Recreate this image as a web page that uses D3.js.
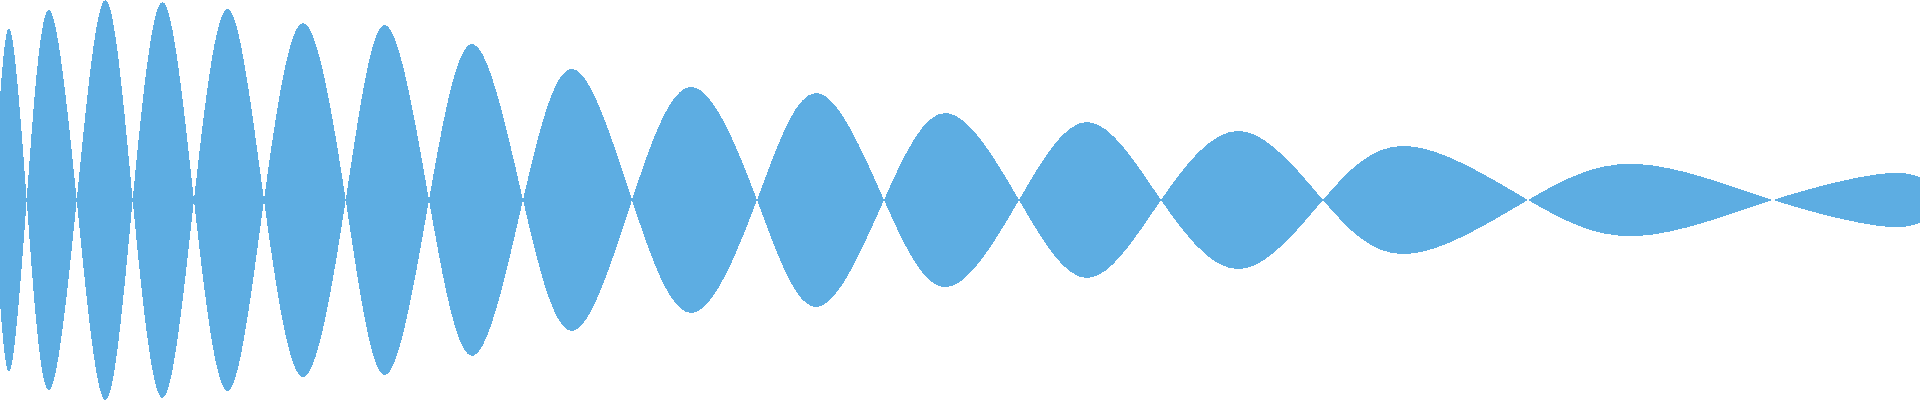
<!DOCTYPE html>
<html>
<head>
<meta charset="utf-8">
<script src="https://cdn.jsdelivr.net/npm/d3@7"></script>
<style>
  html, body { margin: 0; padding: 0; background: #ffffff; overflow: hidden; }
  svg { display: block; }
</style>
</head>
<body>
<script>
var w = 1920;
var h = 400;

// sample times (nodes and crests of the signal)
var times = [0, 10.7, 26.7, 48.3, 76.7, 105.3, 132.7, 162.5, 194, 227.7, 264, 303.3,
  345.7, 385, 429, 473, 523, 573, 632, 692, 757, 817, 884, 947, 1019, 1088,
  1161, 1240, 1323, 1408, 1528, 1638, 1773, 1880, 1920];

// signal value at each time
var values = [0.515, 0.843, 0, -0.95, 0, 1.0, 0, -0.99, 0, 0.955, 0, -0.885,
  0, 0.875, 0, -0.78, 0, 0.655, 0, -0.565, 0, 0.535, 0, -0.435, 0, 0.39,
  0, -0.345, 0, 0.27, 0, -0.18, 0, 0.13, 0.113];

var data = times.map(function (t, i) {
  return { t: t, v: values[i] };
});

var svg = d3.select("body").append("svg").attr("width", w).attr("height", h);

var x = d3.scaleLinear().domain([0, 1920]).range([0, w]);
var y = d3.scaleLinear().domain([-1, 1]).range([h, 0]);

var area = d3
  .area()
  .x(function (d) {
    return x(d.t);
  })
  .y0(function (d) {
    return y(-d.v);
  })
  .y1(function (d) {
    return y(d.v);
  })
  .curve(d3.curveNatural);

svg
  .append("path")
  .datum(data)
  .attr("d", area)
  .attr("fill", "#5dade2")
  .attr("shape-rendering", "crispEdges");
</script>
</body>
</html>
